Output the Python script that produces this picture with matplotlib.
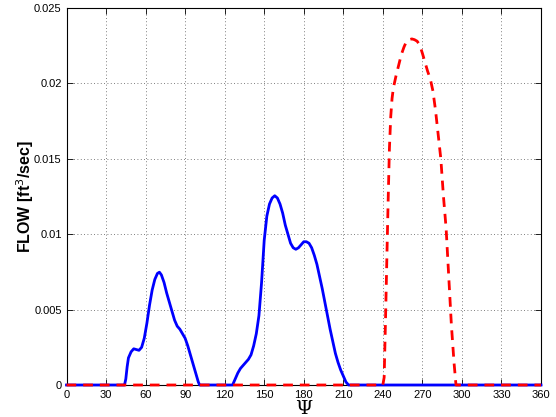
import matplotlib
matplotlib.use("Agg")
import matplotlib.pyplot as plt

plt.rcParams['font.family'] = ['Liberation Sans', 'DejaVu Sans']

blue_x = [0, 44, 45, 46, 47, 49, 51, 53, 55, 57, 59, 61, 63, 65, 67, 69, 70.5, 72, 74, 76, 78, 80,
          82, 84, 86, 88, 90, 92, 94, 96, 98, 100, 101,
          126, 128, 130, 132, 134, 136, 138, 140, 142, 144, 146, 148, 150, 152, 154, 156, 158,
          160, 162, 164, 166, 168, 170, 172, 174, 176, 178, 180, 182, 184, 186, 188, 190, 192,
          194, 196, 198, 200, 202, 204, 206, 208, 210, 212, 214, 360]
blue_y = [0, 0, 0.0004, 0.0012, 0.0018, 0.0022, 0.0024, 0.00235, 0.0023, 0.0025, 0.0031, 0.0041,
          0.0053, 0.0063, 0.0070, 0.0074, 0.00748, 0.0073, 0.0068, 0.0061, 0.0055, 0.0049,
          0.0043, 0.0039, 0.0037, 0.0034, 0.0031, 0.0026, 0.0020, 0.0014, 0.0008, 0.0002, 0,
          0, 0.0004, 0.0008, 0.0011, 0.0013, 0.0015, 0.0017, 0.0020, 0.0026, 0.0034, 0.0046,
          0.0068, 0.0096, 0.0112, 0.0120, 0.0124, 0.01255, 0.0124, 0.0120, 0.0114, 0.0106,
          0.0100, 0.0094, 0.0091, 0.0090, 0.0091, 0.0093, 0.0095, 0.0095, 0.0094, 0.0091,
          0.0086, 0.0080, 0.0072, 0.0064, 0.0055, 0.0046, 0.0037, 0.0029, 0.0021, 0.0015,
          0.0010, 0.0006, 0.0002, 0, 0]

red_x = [0, 240, 241, 242, 243, 244, 245, 246, 247, 248, 250, 252, 254, 256, 258, 260, 262, 264,
         266, 268, 270, 272, 274, 276, 278, 280, 282, 284, 286, 288, 290, 292, 294, 295.5, 360]
red_y = [0, 0, 0.0005, 0.0042, 0.0082, 0.0121, 0.0157, 0.0178, 0.0190, 0.0197, 0.0205, 0.0212,
         0.0219, 0.0224, 0.0228, 0.0229, 0.02295, 0.0229, 0.0228, 0.02255, 0.0220, 0.0214,
         0.0208, 0.0203, 0.0195, 0.0182, 0.0166, 0.0150, 0.0125, 0.0104, 0.0072, 0.0040,
         0.0015, 0, 0]

xticks = list(range(0, 361, 30))
yticks = [0, 0.005, 0.01, 0.015, 0.02, 0.025]
ytick_labels = ['0', '0.005', '0.01', '0.015', '0.02', '0.025']

fig = plt.figure(figsize=(5.56, 4.17), dpi=100)
ax = fig.add_axes([66.5/556, 32/417, 474.5/556, 377/417])

ax.plot(blue_x, blue_y, color='#0000ff', lw=2.0, solid_joinstyle='round', clip_on=False, zorder=3)
ax.plot(red_x, red_y, color='#ff0000', lw=2.0, linestyle=(0, (3.5, 2.5)), clip_on=False, zorder=4)

ax.set_xlim(0, 360)
ax.set_ylim(0, 0.025)
ax.set_xticks(xticks)
ax.set_yticks(yticks)
ax.set_yticklabels(ytick_labels)
ax.tick_params(direction='in', top=True, right=True, labelsize=8, length=4, width=0.6)
ax.grid(True, color='#555555', linestyle=(0, (1, 3)), linewidth=0.6)
for s in ax.spines.values():
    s.set_linewidth(0.8)
    s.set_zorder(2.5)

ax.set_xlabel('Ψ', fontsize=14, family=['DejaVu Serif'], labelpad=0)
ax.set_ylabel('FLOW [ft$^3$/sec]', fontsize=11.5, fontweight='bold', labelpad=-1.5)

fig.savefig('out.png', dpi=100)
